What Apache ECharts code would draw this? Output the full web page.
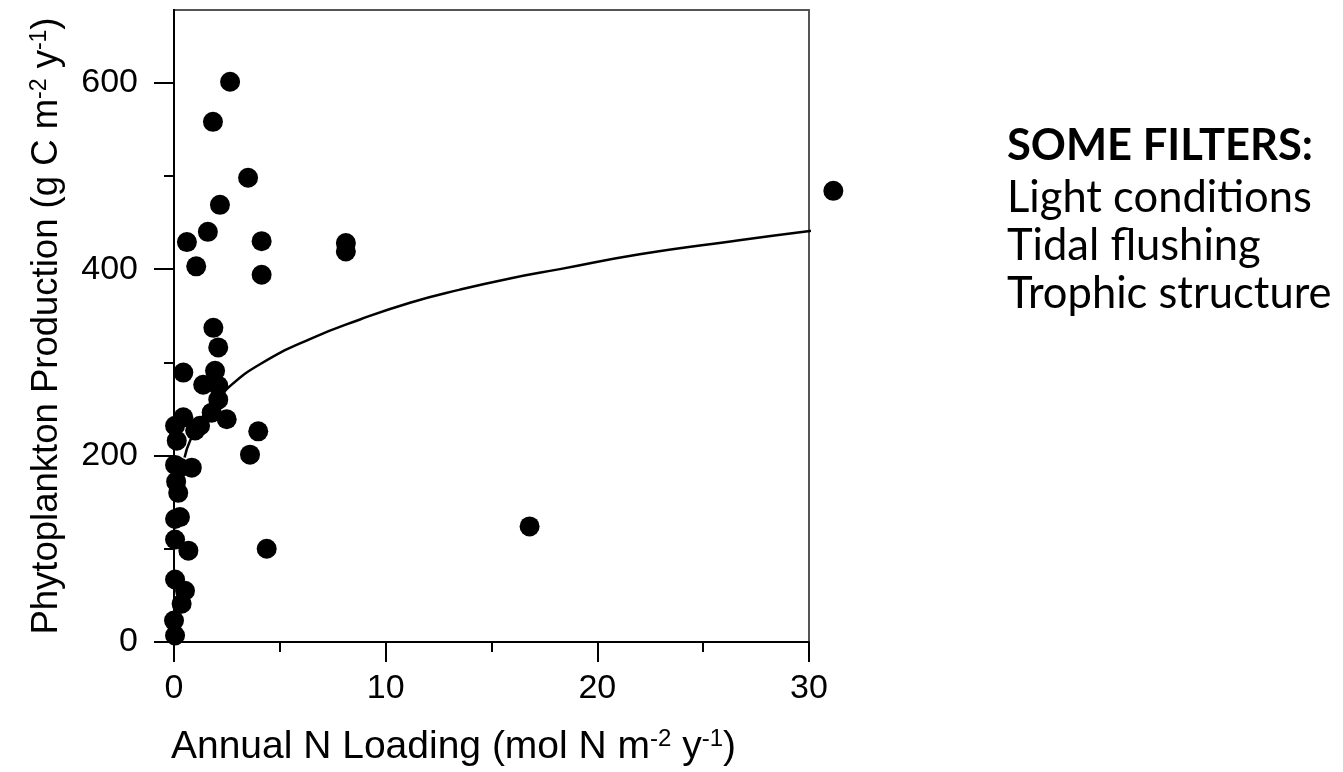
<!DOCTYPE html>
<html>
<head>
<meta charset="utf-8">
<script src="https://cdn.jsdelivr.net/npm/echarts@6/dist/echarts.min.js"></script>
<style>
html,body{margin:0;padding:0;background:#fff;}
#chart{width:1343px;height:772px;}
</style>
</head>
<body>
<div id="chart"></div>
<script>
// Observations: [annual N loading, phytoplankton production]
const points = [
  [2.65,601],[1.84,558],[3.5,498],[31.15,484],[2.17,469],[1.6,440],[0.61,429],
  [4.14,430],[8.12,428],[8.12,419],[1.05,403],[4.14,394],
  [1.86,337],[2.09,316],[0.44,289],[1.94,291],[1.38,276],[2.09,275],[2.09,260],
  [2.49,239],[1.78,246],[1.23,232],[0.44,241],[0.05,232],[0.13,216],[1.0,227],
  [3.98,226],[3.59,201],
  [0.28,187],[0.84,187],[0.05,190],[0.1,172],[0.2,160],[0.28,134],[0.05,132],
  [0.05,110],[0.68,98],[4.38,100],[0.05,67],[0.52,55],[0.36,41],[0.0,23],[0.05,7],
  [16.8,124]
];
// Fitted curve
const curve = [
  [0.5,198],[0.76,216],[1.5,247],[2.57,273],[4.06,298],[6.42,325],[8.79,346],
  [11.15,364],[13.51,378],[15.87,390],[18.23,400],[22.0,416],[26.7,431],[30.04,441],[31.14,444]
];
const xTicks = [0,10,20,30];
const yTicks = [0,200,400,600];
const yMinorTicks = [100,300,500];
const yMax = 678;
const filterTitle = 'SOME FILTERS:';
const filters = ['Light conditions','Tidal flushing','Trophic structure'];

const chart = echarts.init(document.getElementById('chart'));
const axisFont = 'Liberation Sans, Arial, sans-serif';
function richSup(big, small, raise) {
  return {
    n: {fontSize: big, fontFamily: axisFont, color:'#000'},
    s: {fontSize: small, fontFamily: axisFont, color:'#000', padding:[0,0,raise,0]}
  };
}
const textBlocks = [
  {text: filterTitle, top: 124, weight: 'bold'}
].concat(filters.map((f,i)=>({text:f, top: 176 + i*48, weight:'normal'})));

const yBase = {
  type: 'value', min: yTicks[0], max: yMax, position: 'left',
  axisLine: {show: true, onZero: false, lineStyle: {color:'#000', width: 2}},
  splitLine: {show: false}
};

chart.setOption({
  animation: false,
  backgroundColor: '#fff',
  grid: {left: 174, right: 534, top: 10, bottom: 129, show: true, borderColor: '#555', borderWidth: 2, backgroundColor:'transparent'},
  xAxis: {
    type: 'value', min: xTicks[0], max: xTicks[xTicks.length-1], interval: 10,
    name: '{n|Annual N Loading (mol N m}{s|-2}{n| y}{s|-1}{n|)}',
    nameLocation: 'middle', nameGap: 85,
    nameTextStyle: {rich: richSup(39, 24, 17), padding:[0,76,0,0]},
    axisLine: {show: true, onZero: false, lineStyle: {color:'#000', width: 2}},
    axisTick: {show: true, length: 20, lineStyle:{color:'#000', width: 2}},
    minorTick: {show: true, splitNumber: 2, length: 10, lineStyle:{color:'#000', width: 2}},
    splitLine: {show: false},
    axisLabel: {fontSize: 34, fontFamily: axisFont, color:'#000', margin: 30}
  },
  yAxis: [
    Object.assign({}, yBase, {
      name: '{n|Phytoplankton Production (g C m}{s|-2}{n| y}{s|-1}{n|)}',
      nameLocation: 'middle', nameGap: 108,
      nameTextStyle: {rich: richSup(36.5, 23, 15)},
      axisTick: {show: true, length: 20, customValues: yTicks, lineStyle:{color:'#000', width: 2}},
      axisLabel: {fontSize: 34, fontFamily: axisFont, color:'#000', margin: 36, customValues: yTicks}
    }),
    Object.assign({}, yBase, {
      axisTick: {show: true, length: 10, customValues: yMinorTicks, lineStyle:{color:'#000', width: 2}},
      axisLabel: {show: false}
    })
  ],
  series: [
    {type:'line', data: curve, smooth: true, showSymbol: false, symbol:'none', clip: false,
     lineStyle:{color:'#000', width: 2.5}, z: 2},
    {type:'scatter', data: points, symbolSize: 20, clip: false,
     itemStyle:{color:'#000', opacity: 1}, z: 3}
  ],
  graphic: textBlocks.map(b => ({
    type: 'text', left: 1007, top: b.top,
    style: {text: b.text, fill:'#000', font: b.weight + ' 43.5px Lato, "Open Sans", sans-serif'}
  }))
});
</script>
</body>
</html>
